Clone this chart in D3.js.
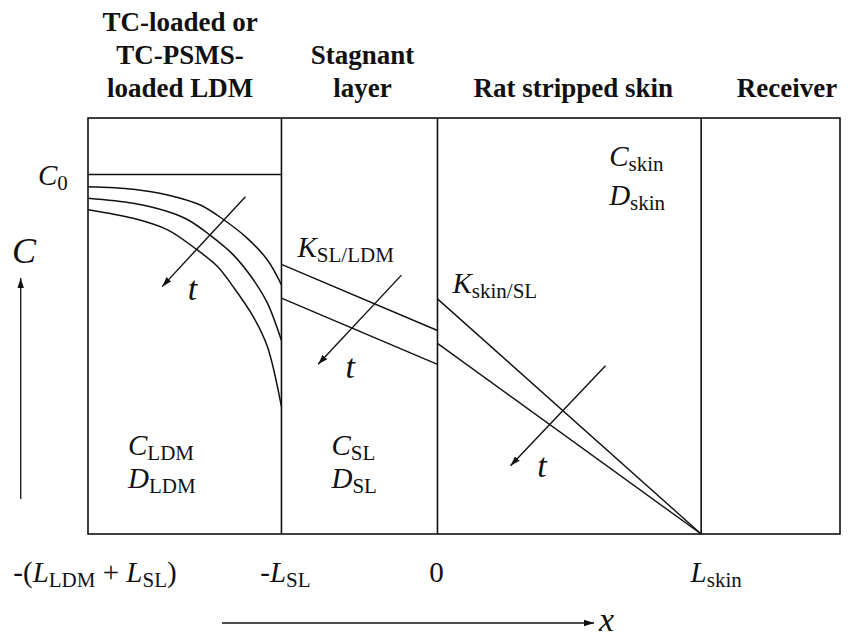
<!DOCTYPE html>
<html>
<head>
<meta charset="utf-8">
<script src="https://cdn.jsdelivr.net/npm/d3@7"></script>
<style>
  html, body { margin: 0; padding: 0; background: #fff; }
  svg { display: block; }
</style>
</head>
<body>
<svg id="chart" width="860" height="639"></svg>
<script>
// Layer boundaries along x (units of L_SL, origin at the stagnant layer / skin interface)
const boundaries = [-2.24, -1, 0, 1.69, 2.58];

// Column headings, one list of lines per layer, with the heading centre (x units)
const headings = [
  ["TC-loaded or", "TC-PSMS-", "loaded LDM"],
  ["Stagnant", "layer"],
  ["Rat stripped skin"],
  ["Receiver"]
];
const headingCentres = [-1.65, -0.48, 0.87, 2.24];

// Initial loading level C0 in the LDM
const initialLevel = 1;

// Concentration profiles in the LDM at three successive times: [x, C]
const ldmEarly = [[-2.24, 0.966], [-1.95, 0.959], [-1.73, 0.943], [-1.52, 0.915], [-1.37, 0.874],
                  [-1.22, 0.823], [-1.09, 0.762], [-1.0, 0.693]];
const ldmMiddle = [[-2.24, 0.934], [-1.95, 0.920], [-1.73, 0.897], [-1.60, 0.874], [-1.46, 0.832],
                   [-1.31, 0.777], [-1.18, 0.707], [-1.09, 0.642], [-1.0, 0.538]];
const ldmLate = [[-2.24, 0.902], [-1.95, 0.878], [-1.73, 0.846], [-1.54, 0.790], [-1.41, 0.744],
                 [-1.31, 0.688], [-1.18, 0.604], [-1.09, 0.521], [-1.0, 0.354]];

// Linear profiles across the stagnant layer: [x, C]
const slEarly = [[-1, 0.750], [0, 0.566]];
const slLate = [[-1, 0.656], [0, 0.472]];

// Linear profiles across the skin, sink condition at L_skin: [x, C]
const skinEarly = [[0, 0.654], [1.69, 0]];
const skinLate = [[0, 0.530], [1.69, 0]];

// Direction of increasing time in each layer: [[x0, C0], [x1, C1]]
const timeArrows = [
  [[-1.231, 0.938], [-1.765, 0.688]],
  [[-0.231, 0.720], [-0.765, 0.472]],
  [[1.077, 0.468], [0.468, 0.190]]
];
const timeLabelPos = [[-1.60, 0.650], [-0.59, 0.435], [0.64, 0.158]];

// Boundary labels under the x axis: position and text parts
const tickLabels = [
  { x: -2.24, dx: 7, parts: [["-(", "n"], ["L", "i"], ["LDM", "s"], [" + ", "n"], ["L", "i"], ["SL", "s"], [")", "n"]] },
  { x: -1, dx: 4, parts: [["-", "n"], ["L", "i"], ["SL", "s"]] },
  { x: 0, dx: -1, parts: [["0", "n"]] },
  { x: 1.69, dx: 15, parts: [["L", "i"], ["skin", "s"]] }
];

const serif = "'Liberation Serif', 'DejaVu Serif', 'Times New Roman', Times, serif";
const svg = d3.select("#chart");
const x = d3.scaleLinear().domain([boundaries[0], boundaries[4]]).range([88, 840]);
const y = d3.scaleLinear().domain([0, 1.157]).range([534, 118]);
const ink = "#111";

// arrowhead marker
svg.append("defs").append("marker")
  .attr("id", "head")
  .attr("viewBox", "0 -4 10 8")
  .attr("refX", 10).attr("refY", 0)
  .attr("markerWidth", 10).attr("markerHeight", 8)
  .attr("markerUnits", "userSpaceOnUse")
  .attr("orient", "auto")
  .append("path").attr("d", "M0,-3.2L10,0L0,3.2Z").attr("fill", ink);

// Draw a label made of plain / italic / subscript runs
function richText(g, px, py, parts, size, anchor) {
  const sub = Math.round(size * 0.74);
  const t = g.append("text").attr("x", px).attr("y", py)
    .attr("font-family", serif).attr("fill", ink)
    .attr("text-anchor", anchor || "start")
    .attr("font-size", size);
  let shifted = false;
  parts.forEach(([s, kind]) => {
    const span = t.append("tspan").text(s).style("white-space", "pre");
    if (kind === "s") {
      span.attr("font-size", sub).attr("font-style", "normal");
      if (!shifted) { span.attr("dy", 5); shifted = true; }
    } else {
      span.attr("font-style", kind === "i" ? "italic" : "normal");
      if (shifted) { span.attr("dy", -5); shifted = false; }
    }
  });
  return t;
}

// frame and layer dividers
svg.append("rect")
  .attr("x", x(boundaries[0])).attr("y", y(1.157))
  .attr("width", x(boundaries[4]) - x(boundaries[0]))
  .attr("height", y(0) - y(1.157))
  .attr("fill", "none").attr("stroke", ink).attr("stroke-width", 1.6);

svg.selectAll("line.divider")
  .data(boundaries.slice(1, 4))
  .enter().append("line")
  .attr("class", "divider")
  .attr("x1", d => x(d)).attr("x2", d => x(d))
  .attr("y1", y(1.157)).attr("y2", y(0))
  .attr("stroke", ink).attr("stroke-width", 1.6);

// headings
headings.forEach((lines, i) => {
  const offset = 3 - lines.length;
  lines.forEach((line, j) => {
    svg.append("text")
      .attr("x", x(headingCentres[i]))
      .attr("y", 31 + (j + offset) * 33)
      .attr("text-anchor", "middle")
      .attr("font-family", serif).attr("fill", ink)
      .attr("font-size", 27).attr("font-weight", "bold")
      .text(line);
  });
});

// C0 level line in the LDM
svg.append("line")
  .attr("x1", x(boundaries[0])).attr("x2", x(boundaries[1]))
  .attr("y1", y(initialLevel)).attr("y2", y(initialLevel))
  .attr("stroke", ink).attr("stroke-width", 1.4);

// concentration profiles
const curve = d3.line().x(d => x(d[0])).y(d => y(d[1])).curve(d3.curveCatmullRom.alpha(0.5));
const straight = d3.line().x(d => x(d[0])).y(d => y(d[1]));

svg.selectAll("path.ldm")
  .data([ldmEarly, ldmMiddle, ldmLate])
  .enter().append("path")
  .attr("class", "ldm")
  .attr("d", curve)
  .attr("fill", "none").attr("stroke", ink).attr("stroke-width", 1.5);

svg.selectAll("path.lin")
  .data([slEarly, slLate, skinEarly, skinLate])
  .enter().append("path")
  .attr("class", "lin")
  .attr("d", straight)
  .attr("fill", "none").attr("stroke", ink).attr("stroke-width", 1.4);

// time arrows
svg.selectAll("line.time")
  .data(timeArrows)
  .enter().append("line")
  .attr("class", "time")
  .attr("x1", d => x(d[0][0])).attr("y1", d => y(d[0][1]))
  .attr("x2", d => x(d[1][0])).attr("y2", d => y(d[1][1]))
  .attr("stroke", ink).attr("stroke-width", 1.4)
  .attr("marker-end", "url(#head)");

timeLabelPos.forEach(p => {
  svg.append("text")
    .attr("x", x(p[0])).attr("y", y(p[1]))
    .attr("font-family", serif).attr("fill", ink)
    .attr("font-size", 34).attr("font-style", "italic")
    .text("t");
});

// layer property labels
richText(svg, 38, y(initialLevel) + 11, [["C", "i"], ["0", "s"]], 29);
richText(svg, x(-1) + 16, y(0.77), [["K", "i"], ["SL/LDM", "s"]], 29);
richText(svg, x(0) + 15, y(0.67), [["K", "i"], ["skin/SL", "s"]], 29);
richText(svg, x(1.69) - 92, y(1.023), [["C", "i"], ["skin", "s"]], 29);
richText(svg, x(1.69) - 92, y(0.916), [["D", "i"], ["skin", "s"]], 29);
richText(svg, x(-2.24) + 40, y(0.220), [["C", "i"], ["LDM", "s"]], 29);
richText(svg, x(-2.24) + 40, y(0.128), [["D", "i"], ["LDM", "s"]], 29);
richText(svg, x(-1) + 50, y(0.220), [["C", "i"], ["SL", "s"]], 29);
richText(svg, x(-1) + 50, y(0.128), [["D", "i"], ["SL", "s"]], 29);

// boundary labels under the frame
tickLabels.forEach(tl => {
  richText(svg, x(tl.x) + tl.dx, 582, tl.parts, 29, "middle");
});

// concentration axis
svg.append("line")
  .attr("x1", 20.7).attr("x2", 20.7).attr("y1", 499).attr("y2", 278)
  .attr("stroke", ink).attr("stroke-width", 1.3)
  .attr("marker-end", "url(#head)");
richText(svg, 12, 263, [["C", "i"]], 36);

// position axis
svg.append("line")
  .attr("x1", 222).attr("x2", 594).attr("y1", 623).attr("y2", 623)
  .attr("stroke", ink).attr("stroke-width", 1.3)
  .attr("marker-end", "url(#head)");
richText(svg, 599, 631, [["x", "i"]], 34);
</script>
</body>
</html>
